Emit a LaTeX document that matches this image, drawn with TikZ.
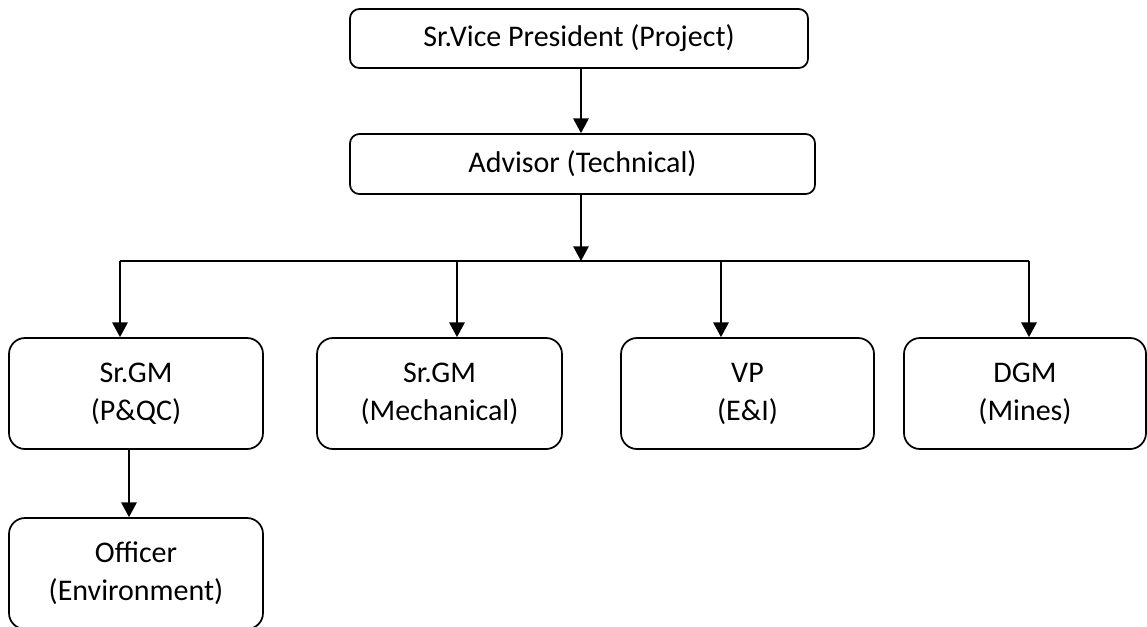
\documentclass[tikz,border=0pt]{standalone}
\usepackage{fontspec}
\setmainfont{Carlito}
\usetikzlibrary{arrows.meta}
\begin{document}
\begin{tikzpicture}[x=0.75pt,y=-0.75pt,
  box/.style={draw=black,line width=1.3pt,rounded corners=#1,inner sep=0pt,align=center,
    font=\fontsize{22.5}{28.5}\selectfont},
  box/.default=7pt,
  arr/.style={line width=1.3pt,-{Triangle[length=11pt,width=11.5pt]}},
  ln/.style={line width=1.3pt}]
\useasboundingbox (0,0) rectangle (1147,626);
\clip (0,0) rectangle (1147,626);
\fill[white] (0,0) rectangle (1147,626);
\node[box, minimum width=343.5pt, minimum height=44.25pt] (vp) at (579,38.5) {Sr.Vice President (Project)};
\node[box, minimum width=348.75pt, minimum height=45pt] (adv) at (582.5,164) {Advisor (Technical)};
\node[box=12pt, minimum width=190.5pt, minimum height=83.25pt] (gm1) at (136,393.5) {Sr.GM\\(P\&QC)};
\node[box=12pt, minimum width=183.75pt, minimum height=83.25pt] (gm2) at (439.5,393.5) {Sr.GM\\(Mechanical)};
\node[box=12pt, minimum width=189.75pt, minimum height=83.25pt] (vpe) at (747.5,393.5) {VP\\(E\&I)};
\node[box=12pt, minimum width=181.5pt, minimum height=83.25pt] (dgm) at (1025,393.5) {DGM\\(Mines)};
\node[box=12pt, minimum width=190.5pt, minimum height=83.25pt] (off) at (136,573.5) {Officer\\(Environment)};
\coordinate (bus) at (581,261);
\coordinate (b1) at (120,261);
\coordinate (b2) at (457,261);
\coordinate (b3) at (721,261);
\coordinate (b4) at (1029,261);
\coordinate (o1) at (129,0);
\draw[arr] (vp.south -| bus) -- (adv.north -| bus);
\draw[arr] (adv.south -| bus) -- (bus);
\draw[ln] (b1) -- (b4);
\draw[arr] (b1) -- (b1 |- gm1.north);
\draw[arr] (b2) -- (b2 |- gm2.north);
\draw[arr] (b3) -- (b3 |- vpe.north);
\draw[arr] (b4) -- (b4 |- dgm.north);
\draw[arr] (o1 |- gm1.south) -- (o1 |- off.north);
\end{tikzpicture}
\end{document}
